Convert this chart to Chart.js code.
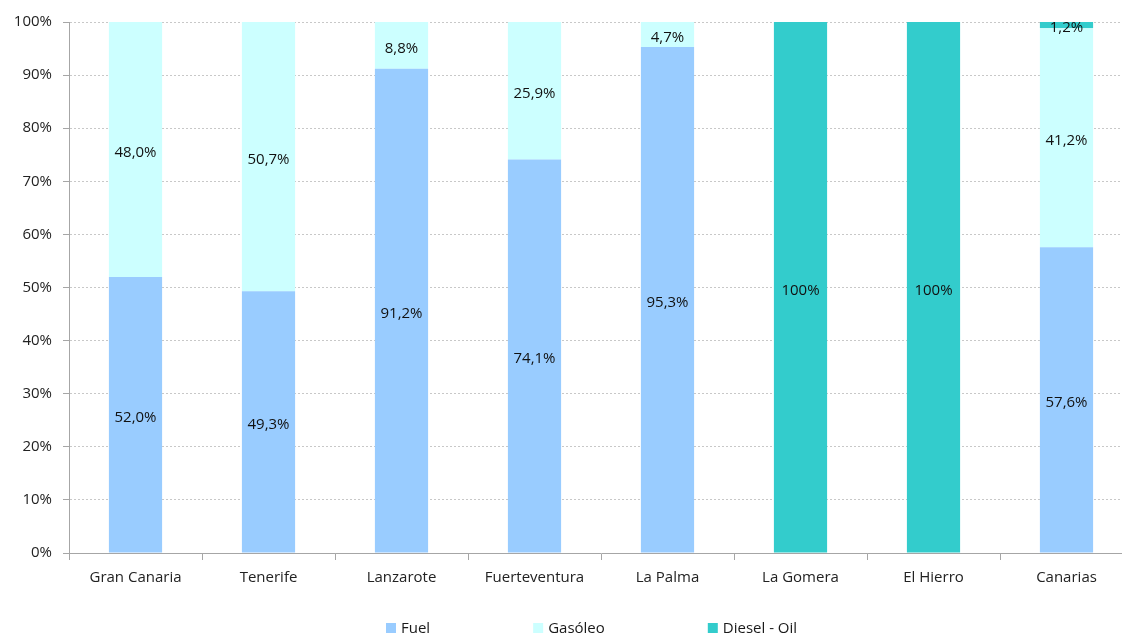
<!DOCTYPE html>
<html lang="es">
<head>
<meta charset="utf-8">
<title>Consumo de combustibles por isla</title>
<script src="https://cdn.jsdelivr.net/npm/chart.js@4/dist/chart.umd.min.js"></script>
<style>
  html, body { margin: 0; padding: 0; background: #fff; overflow: hidden; }
  #wrap { width: 1140px; height: 637px; }
</style>
</head>
<body>
<div id="wrap"><canvas id="chart"></canvas></div>
<script>
const islas = ["Gran Canaria", "Tenerife", "Lanzarote", "Fuerteventura", "La Palma", "La Gomera", "El Hierro", "Canarias"];
const fuel = [52.0, 49.3, 91.2, 74.1, 95.3, 0, 0, 57.6];
const gasoleo = [48.0, 50.7, 8.8, 25.9, 4.7, 0, 0, 41.2];
const dieselOil = [0, 0, 0, 0, 0, 100, 100, 1.2];
const yTicks = [0, 10, 20, 30, 40, 50, 60, 70, 80, 90, 100];

const FONT = "'Open Sans', 'Noto Sans', sans-serif";
const colores = ["#99CCFF", "#CCFFFF", "#33CCCC"];

// etiqueta de porcentaje centrada en cada tramo de la barra
const etiquetas = {
  id: 'etiquetas',
  afterDatasetsDraw(chart) {
    const ctx = chart.ctx;
    ctx.save();
    ctx.font = "15px " + FONT;
    ctx.fillStyle = "#111";
    ctx.textAlign = "center";
    ctx.textBaseline = "middle";
    chart.data.datasets.forEach((ds, i) => {
      chart.getDatasetMeta(i).data.forEach((bar, j) => {
        const v = ds.data[j];
        if (!v) return;
        const txt = v === 100 ? "100%" : v.toFixed(1).replace('.', ',') + "%";
        ctx.fillText(txt, bar.x, (bar.y + bar.base) / 2 + 3);
      });
    });
    ctx.restore();
  }
};

// leyenda inferior con separación amplia entre elementos
const leyenda = {
  id: 'leyenda',
  afterDraw(chart) {
    const ctx = chart.ctx;
    ctx.save();
    ctx.font = "15px " + FONT;
    ctx.textBaseline = "middle";
    ctx.textAlign = "left";
    let x = 386;
    const y = 628;
    chart.data.datasets.forEach(ds => {
      ctx.fillStyle = ds.backgroundColor;
      ctx.fillRect(x, y - 5, 10, 10);
      ctx.fillStyle = "#1a1a1a";
      ctx.fillText(ds.label, x + 15, y + 1);
      x += 15 + ctx.measureText(ds.label).width + 103;
    });
    ctx.restore();
  }
};

new Chart(document.getElementById('chart'), {
  type: 'bar',
  data: {
    labels: islas,
    datasets: [
      { label: 'Fuel', data: fuel, backgroundColor: colores[0] },
      { label: 'Gasóleo', data: gasoleo, backgroundColor: colores[1] },
      { label: 'Diesel - Oil', data: dieselOil, backgroundColor: colores[2] }
    ]
  },
  options: {
    responsive: true,
    maintainAspectRatio: false,
    animation: false,
    barPercentage: 0.4,
    categoryPercentage: 1,
    layout: { padding: { top: 22, right: 7, left: 0, bottom: 0 } },
    plugins: {
      legend: { display: false },
      tooltip: { enabled: false }
    },
    scales: {
      x: {
        stacked: true,
        afterFit(s) { s.height = 84; },
        border: { color: '#a6a6a6', width: 1 },
        grid: { offset: true, drawOnChartArea: false, tickLength: 7, color: '#a6a6a6' },
        ticks: { color: '#222', font: { family: FONT, size: 15 }, padding: 9, maxRotation: 0 }
      },
      y: {
        stacked: true,
        min: 0,
        max: 100,
        afterFit(s) { s.width = 69; },
        afterBuildTicks(s) { s.ticks = yTicks.map(v => ({ value: v })); },
        border: { color: '#a6a6a6', width: 1, dash: [2, 2] },
        grid: { color: '#c8c8c8', tickLength: 6, tickColor: '#a6a6a6', tickBorderDash: [] },
        ticks: {
          color: '#222',
          font: { family: FONT, size: 15 },
          padding: 11,
          callback: v => v + '%'
        }
      }
    }
  },
  plugins: [etiquetas, leyenda]
});
</script>
</body>
</html>
